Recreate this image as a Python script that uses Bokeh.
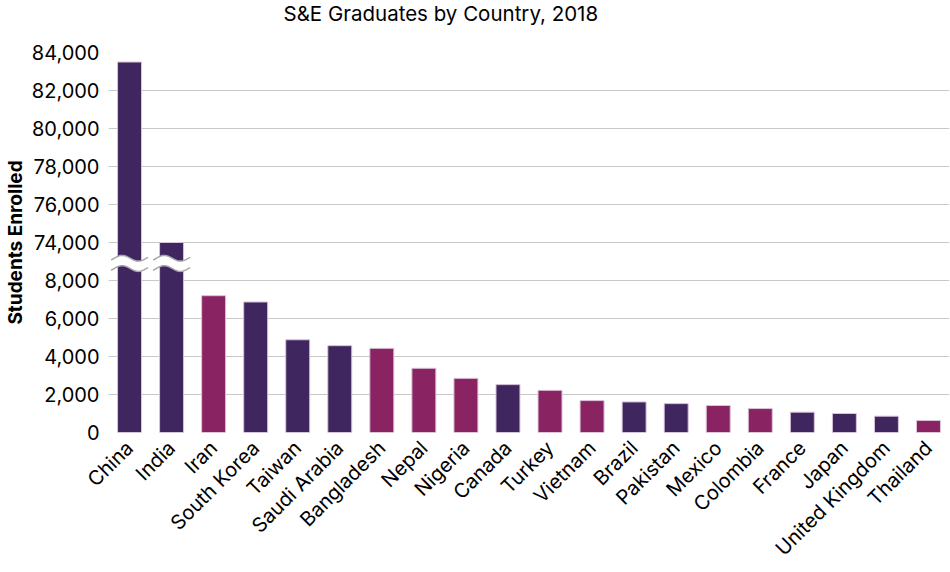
import numpy as np
from bokeh.plotting import figure
from bokeh.models import FixedTicker, Range1d, ColumnDataSource
from bokeh.embed import file_html
from bokeh.resources import INLINE

countries = ["China", "India", "Iran", "South Korea", "Taiwan", "Saudi Arabia",
             "Bangladesh", "Nepal", "Nigeria", "Canada", "Turkey", "Vietnam",
             "Brazil", "Pakistan", "Mexico", "Colombia", "France", "Japan",
             "United Kingdom", "Thailand"]
students = [83500, 74000, 7200, 6870, 4880, 4570, 4430, 3380, 2850, 2520,
            2220, 1680, 1610, 1520, 1420, 1260, 1070, 1000, 860, 630]
group = ["a", "a", "b", "a", "a", "a", "b", "b", "b", "a",
         "b", "b", "a", "a", "b", "b", "a", "a", "a", "b"]

lower_ticks = [0, 2000, 4000, 6000, 8000]
upper_ticks = [74000, 76000, 78000, 80000, 82000, 84000]
break_low = 8000
break_high = 74000
gap = 2000

colors = {"a": "#40265f", "b": "#8a2362"}
shift = break_high - break_low - gap


def tr(v):
    return v if v <= break_low else v - shift


FONT = "Inter"

xs = list(range(len(countries)))
src = ColumnDataSource(dict(
    x=xs,
    top=[tr(v) for v in students],
    color=[colors[g] for g in group],
    name=countries,
    value=students,
))

y_top = tr(upper_ticks[-1])
p = figure(width=950, height=572, output_backend="svg", toolbar_location=None,
           x_range=Range1d(-0.5, len(countries) - 0.5),
           y_range=Range1d(0, y_top),
           min_border_left=108, min_border_right=1, min_border_top=51,
           min_border_bottom=140)

p.vbar(x="x", top="top", width=0.57, bottom=0, fill_color="color",
       line_color="#d9c3d9", line_width=1, source=src)

# axis-break squiggles on bars that exceed the break
yc = (break_low + tr(break_high)) / 2.0 - 100
amp = 150
half_sep = 270
t = np.linspace(-0.1, 1.05, 40)
for xi, v in zip(xs, students):
    if v > break_high - 1:
        wx = xi - 0.44 + 0.88 * (t + 0.1) / 1.15
        wave = amp * np.sin(2 * np.pi * t)
        up = yc + half_sep + wave
        lo = yc - half_sep + wave
        p.patch(np.concatenate([wx, wx[::-1]]), np.concatenate([up, lo[::-1]]),
                fill_color="white", line_color=None)
        p.line(wx, up, line_color="#a8a8a8", line_width=1.5)
        p.line(wx, lo, line_color="#a8a8a8", line_width=1.5)

# axes
ticks = lower_ticks + [tr(v) for v in upper_ticks]
labels = {tr(v): f"{v:,}" for v in lower_ticks + upper_ticks}
p.yaxis.ticker = FixedTicker(ticks=ticks)
p.yaxis.major_label_overrides = labels
p.yaxis.axis_label = "Students Enrolled"
p.yaxis.axis_label_text_font = FONT
p.yaxis.axis_label_text_font_style = "bold"
p.yaxis.axis_label_text_font_size = "19px"
p.yaxis.axis_label_text_color = "black"
p.yaxis.axis_label_standoff = 2
p.yaxis.major_label_text_font = FONT
p.yaxis.major_label_text_font_size = "20px"
p.yaxis.major_label_text_color = "black"
p.yaxis.major_label_standoff = 3

p.xaxis.ticker = FixedTicker(ticks=xs)
p.xaxis.major_label_overrides = {i: c for i, c in enumerate(countries)}
p.xaxis.major_label_orientation = np.pi / 4
p.xaxis.major_label_text_font = FONT
p.xaxis.major_label_text_font_size = "20px"
p.xaxis.major_label_text_color = "black"
p.xaxis.major_label_standoff = 6

for ax in (p.xaxis, p.yaxis):
    ax.axis_line_color = None
    ax.major_tick_line_color = None
    ax.minor_tick_line_color = None

p.xgrid.grid_line_color = None
p.ygrid.ticker = FixedTicker(ticks=ticks)
p.ygrid.grid_line_color = "#c8c8c8"
p.ygrid.grid_line_width = 1
p.outline_line_color = None

# second (blank) line gives the title box extra height so it sits near the top
p.title.text = "S&E Graduates by Country, 2018\n "
p.title.text_font = FONT
p.title.text_font_size = "20.5px"
p.title.text_font_style = "normal"
p.title.text_color = "black"
p.title.text_line_height = 1.0
p.title.align = "left"
p.title.vertical_align = "top"
p.title.offset = 175
p.title.standoff = 0

open("out.html", "w").write(file_html(p, INLINE))
